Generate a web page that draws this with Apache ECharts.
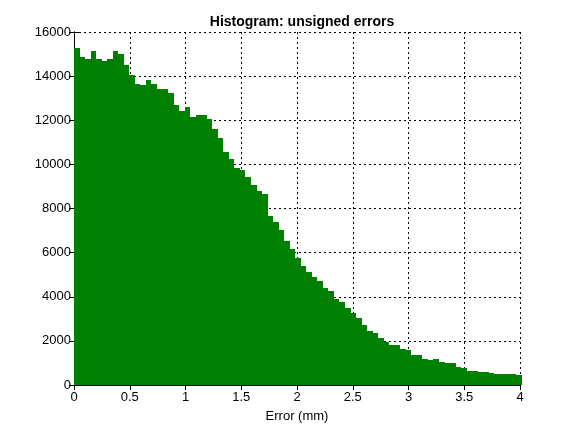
<!DOCTYPE html>
<html>
<head>
<meta charset="utf-8">
<script src="https://cdn.jsdelivr.net/npm/echarts@6/dist/echarts.min.js"></script>
<style>html,body{margin:0;padding:0;background:#fff;}#c{width:576px;height:432px;}</style>
</head>
<body>
<div id="c"></div>
<script>
const titleText = 'Histogram: unsigned errors';
const xLabel = 'Error (mm)';
const binWidth = 0.0496;
const counts = [
  15263, 14868, 14778, 15140, 14778, 14687, 14778, 15140, 15004, 14506,
  14052, 13645, 13599, 13825, 13645, 13418, 13418, 13236, 12692, 12420,
  12601, 12148, 12239, 12239, 12058, 11604, 11197, 10562, 10245, 9837,
  9746, 9429, 9066, 8794, 8658, 7660, 7389, 7026, 6528, 6165,
  5757, 5394, 5122, 4896, 4714, 4397, 4261, 3898, 3762, 3490,
  3264, 3037, 2720, 2448, 2357, 2130, 1949, 1813, 1813, 1632,
  1587, 1360, 1360, 1179, 1133, 1179, 1043, 997, 997, 816,
  771, 635, 635, 589, 589, 544, 499, 499, 499, 499,
  467
];
const xTicks = [0, 0.5, 1, 1.5, 2, 2.5, 3, 3.5, 4];
const yTicks = [0, 2000, 4000, 6000, 8000, 10000, 12000, 14000, 16000];

const binData = counts.map((c, i) => [i * binWidth, (i + 1) * binWidth, c]);

const FONT = 'Liberation Sans';
const chart = echarts.init(document.getElementById('c'), null, {renderer: 'canvas'});
const gridLine = {show: true, lineStyle: {color: '#000', type: [2, 3], width: 1}};
const axLine = {show: true, lineStyle: {color: '#000', width: 1}};
const tick = {show: true, inside: true, length: 5, lineStyle: {color: '#000'}};
chart.setOption({
  animation: false,
  backgroundColor: '#fff',
  title: {
    text: titleText, left: 297, top: 10, textAlign: 'center',
    textStyle: {fontFamily: FONT, fontSize: 14, fontWeight: 'bold', color: '#000'}
  },
  grid: {left: 74, right: 56, top: 32, bottom: 47, containLabel: false},
  xAxis: [{
    type: 'value', min: xTicks[0], max: xTicks[xTicks.length - 1], interval: 0.5,
    axisLine: axLine, axisTick: tick, splitLine: gridLine,
    axisLabel: {color: '#000', fontFamily: FONT, fontSize: 13, margin: 6,
      formatter: v => String(v)},
    name: xLabel, nameLocation: 'middle', nameGap: 25,
    nameTextStyle: {color: '#000', fontFamily: FONT, fontSize: 13}
  }, {
    type: 'value', position: 'top', min: xTicks[0], max: xTicks[xTicks.length - 1], interval: 0.5,
    axisLine: axLine, axisTick: tick, splitLine: {show: false}, axisLabel: {show: false}
  }],
  yAxis: [{
    type: 'value', min: yTicks[0], max: yTicks[yTicks.length - 1], interval: 2000,
    axisLine: axLine, axisTick: tick, splitLine: gridLine,
    axisLabel: {color: '#000', fontFamily: FONT, fontSize: 13, margin: 3,
      formatter: v => String(v)}
  }, {
    type: 'value', position: 'right', min: yTicks[0], max: yTicks[yTicks.length - 1], interval: 2000,
    axisLine: axLine, axisTick: tick, splitLine: {show: false}, axisLabel: {show: false}
  }],
  series: [{
    type: 'custom',
    clip: false,
    xAxisIndex: 0, yAxisIndex: 0,
    encode: {x: [0, 1], y: 2},
    data: binData,
    renderItem: function (params, api) {
      const p0 = api.coord([api.value(0), 0]);
      const p1 = api.coord([api.value(1), api.value(2)]);
      const x0 = Math.round(p0[0]);
      const x1 = Math.round(p1[0]);
      const yTop = Math.round(p1[1]);
      const yBot = Math.round(p0[1]);
      return {
        type: 'rect',
        shape: {x: x0, y: yTop, width: x1 - x0, height: yBot - yTop},
        style: {fill: '#008000', stroke: null}
      };
    }
  }]
});
</script>
</body>
</html>
